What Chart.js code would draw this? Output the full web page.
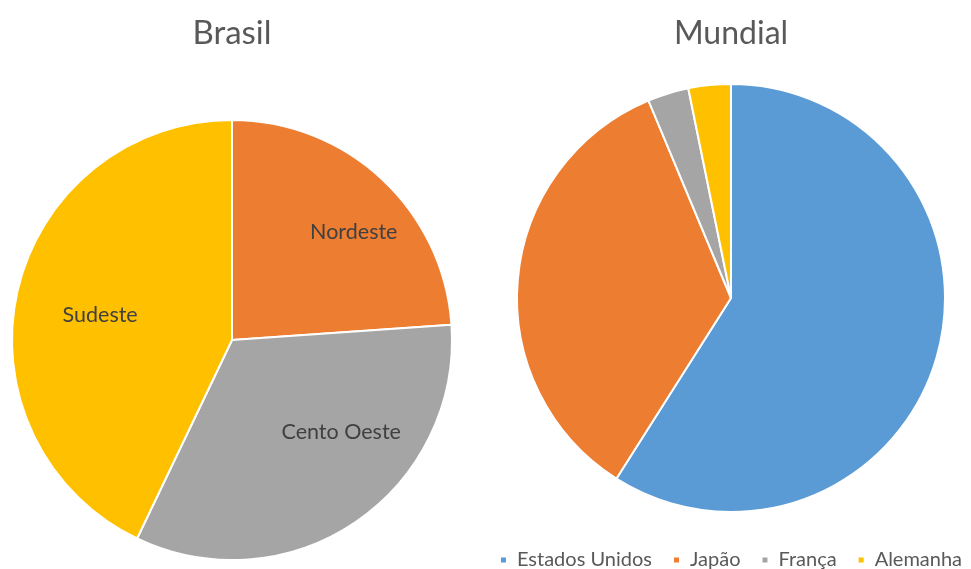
<!DOCTYPE html>
<html>
<head>
<meta charset="utf-8">
<script src="https://cdn.jsdelivr.net/npm/chart.js@4"></script>
<style>
  html, body { margin: 0; padding: 0; background: #ffffff; overflow: hidden; width: 971px; height: 569px; position: relative; }
  #left { position: absolute; left: 0; top: 0; width: 465px; height: 569px; }
  #right { position: absolute; left: 476px; top: 0; width: 510px; height: 580px; }
</style>
</head>
<body>
<div id="left"><canvas id="c1"></canvas></div>
<div id="right"><canvas id="c2"></canvas></div>
<script>
// ---- data ----
const brasilTitle = 'Brasil';
const brasilLabels = ['Nordeste', 'Cento Oeste', 'Sudeste'];
const brasilValues = [23.9, 33.2, 42.9];

const mundialTitle = 'Mundial';
const mundialLabels = ['Estados Unidos', 'Japão', 'França', 'Alemanha'];
const mundialValues = [59.0, 34.7, 3.1, 3.2];

// ---- styles ----
const brasilColors = ['#ED7D31', '#A5A5A5', '#FFC000'];
const mundialColors = ['#5B9BD5', '#ED7D31', '#A5A5A5', '#FFC000'];
const FONT = 'Lato, "Noto Sans", sans-serif';

Chart.defaults.font.family = FONT;
Chart.defaults.animation = false;

// draws category labels inside the slices
const sliceLabels = {
  id: 'sliceLabels',
  afterDatasetsDraw(chart, args, opts) {
    if (!opts || !opts.display) return;
    const meta = chart.getDatasetMeta(0);
    const ctx = chart.ctx;
    ctx.save();
    ctx.font = opts.size + 'px ' + FONT;
    ctx.fillStyle = opts.color;
    ctx.textAlign = 'center';
    ctx.textBaseline = 'middle';
    meta.data.forEach((arc, i) => {
      const p = arc.getProps(['x', 'y', 'startAngle', 'endAngle', 'outerRadius'], true);
      const mid = (p.startAngle + p.endAngle) / 2 + (opts.angleShift[i] || 0) * Math.PI / 180;
      const r = p.outerRadius * opts.radiusFactor[i];
      ctx.fillText(chart.data.labels[i], p.x + Math.cos(mid) * r, p.y + Math.sin(mid) * r);
    });
    ctx.restore();
  }
};

new Chart(document.getElementById('c1'), {
  type: 'pie',
  data: {
    labels: brasilLabels,
    datasets: [{ data: brasilValues, backgroundColor: brasilColors, borderColor: '#ffffff', borderWidth: 2, radius: 220 }]
  },
  plugins: [sliceLabels],
  options: {
    responsive: true,
    maintainAspectRatio: false,
    layout: { padding: { left: 0, right: 1, top: 0, bottom: 0 } },
    plugins: {
      legend: { display: false },
      tooltip: { enabled: false },
      title: {
        display: true, text: brasilTitle, color: '#595959',
        font: { size: 33, weight: 'normal', lineHeight: 1.2 },
        padding: { top: 13.4, bottom: 58 }
      },
      sliceLabels: {
        display: true, size: 21.5, color: '#404040',
        radiusFactor: [0.74, 0.65, 0.61],
        angleShift: [5.4, -15.6, -2.1]
      }
    }
  }
});

new Chart(document.getElementById('c2'), {
  type: 'pie',
  data: {
    labels: mundialLabels,
    datasets: [{ data: mundialValues, backgroundColor: mundialColors, borderColor: '#ffffff', borderWidth: 2, radius: 214 }]
  },
  options: {
    responsive: true,
    maintainAspectRatio: false,
    layout: { padding: 0 },
    plugins: {
      tooltip: { enabled: false },
      title: {
        display: true, text: mundialTitle, color: '#595959',
        font: { size: 32, weight: 'normal', lineHeight: 1.2 },
        padding: { top: 14, bottom: 14.6 }
      },
      legend: {
        display: true, position: 'bottom',
        labels: {
          color: '#595959', font: { size: 20 },
          usePointStyle: true, pointStyle: 'rect', boxWidth: 7, boxHeight: 7,
          padding: 21
        }
      }
    }
  }
});
</script>
</body>
</html>
